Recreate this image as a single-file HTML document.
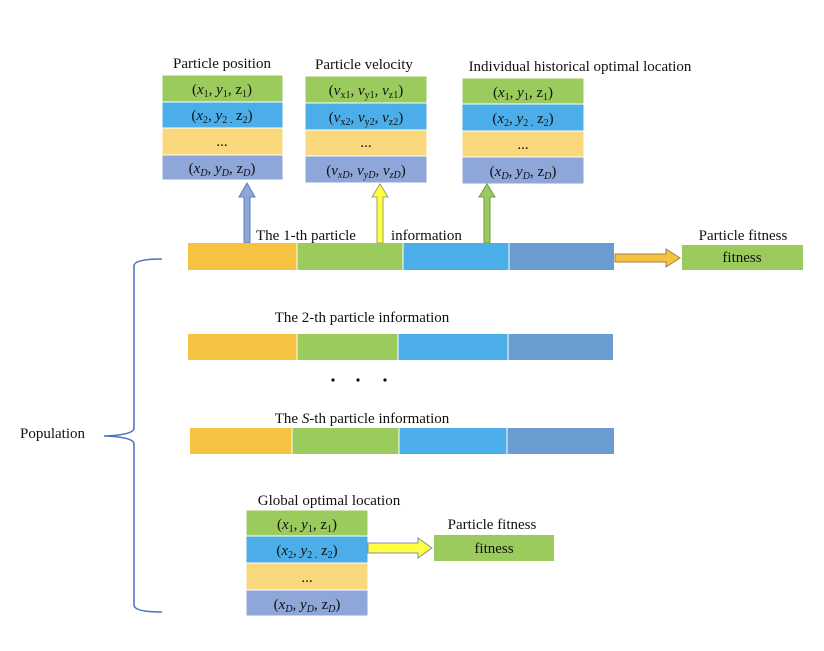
<!DOCTYPE html>
<html><head><meta charset="utf-8"><style>
body{margin:0;background:#fff}
svg text{font-family:"Liberation Serif",serif;font-size:15px;fill:#111}
.c{text-anchor:middle}
</style></head><body>
<svg width="824" height="646" viewBox="0 0 824 646" xmlns="http://www.w3.org/2000/svg">
<!-- Box 1 -->
<text x="222" y="68" class="c">Particle position</text>
<rect x="162" y="75" width="121" height="27" fill="#9BCB5D" stroke="#fff"/>
<rect x="162" y="102" width="121" height="26" fill="#4BAEE8" stroke="#fff"/>
<rect x="162" y="128" width="121" height="27" fill="#F9D87E" stroke="#fff"/>
<rect x="162" y="155" width="121" height="25" fill="#8EA6D8" stroke="#fff"/>
<text x="222" y="94" class="c">(<tspan font-style="italic">x</tspan><tspan font-size="10" dy="3">1</tspan><tspan dy="-3">, </tspan><tspan font-style="italic">y</tspan><tspan font-size="10" dy="3">1</tspan><tspan dy="-3">, z</tspan><tspan font-size="10" dy="3">1</tspan><tspan dy="-3">)</tspan></text>
<text x="222" y="120" class="c">(<tspan font-style="italic">x</tspan><tspan font-size="10" dy="3">2</tspan><tspan dy="-3">, </tspan><tspan font-style="italic">y</tspan><tspan font-size="10" dy="3">2 .</tspan><tspan dy="-3"> z</tspan><tspan font-size="10" dy="3">2</tspan><tspan dy="-3">)</tspan></text>
<text x="222" y="146" class="c" font-size="12">...</text>
<text x="222" y="173" class="c">(<tspan font-style="italic">x</tspan><tspan font-size="10" dy="3" font-style="italic">D</tspan><tspan dy="-3">, </tspan><tspan font-style="italic">y</tspan><tspan font-size="10" dy="3" font-style="italic">D</tspan><tspan dy="-3">, z</tspan><tspan font-size="10" dy="3" font-style="italic">D</tspan><tspan dy="-3">)</tspan></text>
<!-- Box 2 -->
<text x="364" y="69" class="c">Particle velocity</text>
<rect x="305" y="76" width="122" height="27" fill="#9BCB5D" stroke="#fff"/>
<rect x="305" y="103" width="122" height="27" fill="#4BAEE8" stroke="#fff"/>
<rect x="305" y="130" width="122" height="26" fill="#F9D87E" stroke="#fff"/>
<rect x="305" y="156" width="122" height="27" fill="#8EA6D8" stroke="#fff"/>
<text x="366" y="95" class="c">(<tspan font-style="italic">v</tspan><tspan font-size="10" dy="3">x1</tspan><tspan dy="-3">, </tspan><tspan font-style="italic">v</tspan><tspan font-size="10" dy="3">y1</tspan><tspan dy="-3">, </tspan><tspan font-style="italic">v</tspan><tspan font-size="10" dy="3">z1</tspan><tspan dy="-3">)</tspan></text>
<text x="366" y="122" class="c">(<tspan font-style="italic">v</tspan><tspan font-size="10" dy="3">x2</tspan><tspan dy="-3">, </tspan><tspan font-style="italic">v</tspan><tspan font-size="10" dy="3">y2</tspan><tspan dy="-3">, </tspan><tspan font-style="italic">v</tspan><tspan font-size="10" dy="3">z2</tspan><tspan dy="-3">)</tspan></text>
<text x="366" y="147" class="c" font-size="12">...</text>
<text x="366" y="175" class="c">(<tspan font-style="italic">v</tspan><tspan font-size="10" dy="3" font-style="italic">xD</tspan><tspan dy="-3">, </tspan><tspan font-style="italic">v</tspan><tspan font-size="10" dy="3" font-style="italic">yD</tspan><tspan dy="-3">, </tspan><tspan font-style="italic">v</tspan><tspan font-size="10" dy="3" font-style="italic">zD</tspan><tspan dy="-3">)</tspan></text>
<!-- Box 3 -->
<text x="580" y="71" class="c">Individual historical optimal location</text>
<rect x="462" y="78" width="122" height="26" fill="#9BCB5D" stroke="#fff"/>
<rect x="462" y="104" width="122" height="27" fill="#4BAEE8" stroke="#fff"/>
<rect x="462" y="131" width="122" height="26" fill="#F9D87E" stroke="#fff"/>
<rect x="462" y="157" width="122" height="27" fill="#8EA6D8" stroke="#fff"/>
<text x="523" y="97" class="c">(<tspan font-style="italic">x</tspan><tspan font-size="10" dy="3">1</tspan><tspan dy="-3">, </tspan><tspan font-style="italic">y</tspan><tspan font-size="10" dy="3">1</tspan><tspan dy="-3">, z</tspan><tspan font-size="10" dy="3">1</tspan><tspan dy="-3">)</tspan></text>
<text x="523" y="123" class="c">(<tspan font-style="italic">x</tspan><tspan font-size="10" dy="3">2</tspan><tspan dy="-3">, </tspan><tspan font-style="italic">y</tspan><tspan font-size="10" dy="3">2 .</tspan><tspan dy="-3"> z</tspan><tspan font-size="10" dy="3">2</tspan><tspan dy="-3">)</tspan></text>
<text x="523" y="149" class="c" font-size="12">...</text>
<text x="523" y="176" class="c">(<tspan font-style="italic">x</tspan><tspan font-size="10" dy="3" font-style="italic">D</tspan><tspan dy="-3">, </tspan><tspan font-style="italic">y</tspan><tspan font-size="10" dy="3" font-style="italic">D</tspan><tspan dy="-3">, z</tspan><tspan font-size="10" dy="3" font-style="italic">D</tspan><tspan dy="-3">)</tspan></text>
<!-- Up arrows -->
<text x="256" y="240">The 1-th particle</text>
<text x="391" y="240">information</text>
<polygon points="244,243 244,197 239,197 247,183 255,197 250,197 250,243" fill="#8EA6D8" stroke="#5E7FB8"/>
<polygon points="377,243 377,197 372,197 380,184 388,197 383,197 383,243" fill="#FFFF40" stroke="#9FA070"/>
<polygon points="484,243 484,197 479,197 487,184 495,197 490,197 490,243" fill="#9BCB5D" stroke="#6E9A40"/>
<!-- Bar 1 -->
<rect x="188" y="243" width="109" height="27" fill="#F5C242"/>
<rect x="297" y="243" width="106" height="27" fill="#9BCB5D"/>
<rect x="403" y="243" width="106" height="27" fill="#4BAEE8"/>
<rect x="509" y="243" width="105" height="27" fill="#6A9BD1"/>
<line x1="297" y1="243" x2="297" y2="270" stroke="#fff"/><line x1="403" y1="243" x2="403" y2="270" stroke="#fff"/><line x1="509" y1="243" x2="509" y2="270" stroke="#fff"/>
<polygon points="615,254 666,254 666,249 680,258 666,267 666,262 615,262" fill="#F5C242" stroke="#A08040"/>
<text x="743" y="240" class="c">Particle fitness</text>
<rect x="682" y="245" width="121" height="25" fill="#9BCB5D"/>
<text x="742" y="262" class="c">fitness</text>
<!-- Bar 2 -->
<text x="362" y="322" class="c">The 2-th particle information</text>
<rect x="188" y="334" width="109" height="26" fill="#F5C242"/>
<rect x="297" y="334" width="101" height="26" fill="#9BCB5D"/>
<rect x="398" y="334" width="110" height="26" fill="#4BAEE8"/>
<rect x="508" y="334" width="105" height="26" fill="#6A9BD1"/>
<line x1="297" y1="334" x2="297" y2="360" stroke="#fff"/><line x1="398" y1="334" x2="398" y2="360" stroke="#fff"/><line x1="508" y1="334" x2="508" y2="360" stroke="#fff"/>
<circle cx="333" cy="380" r="1.6" fill="#111"/><circle cx="358" cy="380" r="1.6" fill="#111"/><circle cx="385" cy="380" r="1.6" fill="#111"/>
<!-- Bar 3 -->
<text x="362" y="423" class="c">The <tspan font-style="italic">S</tspan>-th particle information</text>
<rect x="190" y="428" width="102" height="26" fill="#F5C242"/>
<rect x="292" y="428" width="107" height="26" fill="#9BCB5D"/>
<rect x="399" y="428" width="108" height="26" fill="#4BAEE8"/>
<rect x="507" y="428" width="107" height="26" fill="#6A9BD1"/>
<line x1="292" y1="428" x2="292" y2="454" stroke="#fff"/><line x1="399" y1="428" x2="399" y2="454" stroke="#fff"/><line x1="507" y1="428" x2="507" y2="454" stroke="#fff"/>
<!-- Global -->
<text x="329" y="505" class="c">Global optimal location</text>
<rect x="246" y="510" width="122" height="26" fill="#9BCB5D" stroke="#fff"/>
<rect x="246" y="536" width="122" height="27" fill="#4BAEE8" stroke="#fff"/>
<rect x="246" y="563" width="122" height="27" fill="#F9D87E" stroke="#fff"/>
<rect x="246" y="590" width="122" height="26" fill="#8EA6D8" stroke="#fff"/>
<text x="307" y="529" class="c">(<tspan font-style="italic">x</tspan><tspan font-size="10" dy="3">1</tspan><tspan dy="-3">, </tspan><tspan font-style="italic">y</tspan><tspan font-size="10" dy="3">1</tspan><tspan dy="-3">, z</tspan><tspan font-size="10" dy="3">1</tspan><tspan dy="-3">)</tspan></text>
<text x="307" y="555" class="c">(<tspan font-style="italic">x</tspan><tspan font-size="10" dy="3">2</tspan><tspan dy="-3">, </tspan><tspan font-style="italic">y</tspan><tspan font-size="10" dy="3">2 .</tspan><tspan dy="-3"> z</tspan><tspan font-size="10" dy="3">2</tspan><tspan dy="-3">)</tspan></text>
<text x="307" y="582" class="c" font-size="12">...</text>
<text x="307" y="609" class="c">(<tspan font-style="italic">x</tspan><tspan font-size="10" dy="3" font-style="italic">D</tspan><tspan dy="-3">, </tspan><tspan font-style="italic">y</tspan><tspan font-size="10" dy="3" font-style="italic">D</tspan><tspan dy="-3">, z</tspan><tspan font-size="10" dy="3" font-style="italic">D</tspan><tspan dy="-3">)</tspan></text>
<polygon points="368,543 418,543 418,538 432,548 418,558 418,553 368,553" fill="#FFFF40" stroke="#8090B0"/>
<text x="492" y="529" class="c">Particle fitness</text>
<rect x="434" y="535" width="120" height="26" fill="#9BCB5D"/>
<text x="494" y="553" class="c">fitness</text>
<!-- Brace -->
<path d="M162,259 Q134,259 134,266 L134,428 Q134,435 104,436 Q134,437 134,444 L134,605 Q134,612 162,612" fill="none" stroke="#4472C4" stroke-width="1.5"/>
<text x="20" y="438">Population</text>
</svg>
</body></html>
